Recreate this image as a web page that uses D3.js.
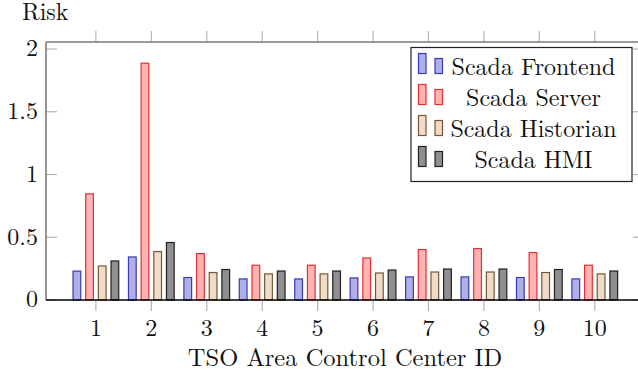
<!DOCTYPE html>
<html>
<head>
<meta charset="utf-8">
<script src="https://d3js.org/d3.v7.min.js"></script>
<style>
  body { margin: 0; background: #fff; }
</style>
</head>
<body>
<script>
// values
const centers = [1, 2, 3, 4, 5, 6, 7, 8, 9, 10];
const seriesNames = ["Scada Frontend", "Scada Server", "Scada Historian", "Scada HMI"];
const frontend  = [0.23, 0.343, 0.179, 0.168, 0.168, 0.176, 0.184, 0.184, 0.179, 0.168];
const server    = [0.846, 1.887, 0.37, 0.277, 0.277, 0.335, 0.402, 0.41, 0.378, 0.277];
const historian = [0.271, 0.386, 0.219, 0.208, 0.208, 0.215, 0.223, 0.223, 0.219, 0.208];
const hmi       = [0.311, 0.458, 0.243, 0.231, 0.231, 0.239, 0.247, 0.247, 0.243, 0.231];
const yTicks = [0, 0.5, 1, 1.5, 2];
const yTickLabels = ["0", "0.5", "1", "1.5", "2"];

const fills   = ["#b0b0e8", "#ffb3b3", "#efdcc8", "#8f8f8f"];
const strokes = ["#3a3ab4", "#e33030", "#7a5633", "#202020"];
const allValues = [frontend, server, historian, hmi];

let svg = d3.select("body").append("svg")
            .attr("width", 638)
            .attr("height", 374)
            .style("font-family", "'Latin Modern Roman', 'Liberation Serif', serif")
            .style("font-size", "24px")
            .style("fill", "#111");

let plotLeft = 46, plotRight = 638, plotTop = 42, plotBottom = 300;

let x = d3.scaleLinear().domain([0.1, 10.78]).range([plotLeft, plotRight]);
let y = d3.scaleLinear().domain([0, 2.056]).range([plotBottom, plotTop]);

// offsets of the four bars inside a group
let step = x(2) - x(1);
let inner = d3.scaleBand()
              .domain(seriesNames)
              .range([-step * 0.457, step * 0.457])
              .paddingInner(0.39)
              .paddingOuter(0.195);

// ticks (gray)
let tickColor = "#b5b5b5";
svg.append("g").selectAll("line").data(centers).enter().append("line")
   .attr("x1", d => x(d)).attr("x2", d => x(d))
   .attr("y1", plotBottom).attr("y2", plotBottom + 11)
   .attr("stroke", tickColor).attr("stroke-width", 1.2);
svg.append("g").selectAll("line").data(centers).enter().append("line")
   .attr("x1", d => x(d)).attr("x2", d => x(d))
   .attr("y1", plotTop).attr("y2", plotTop - 11)
   .attr("stroke", tickColor).attr("stroke-width", 1.2);
svg.append("g").selectAll("line").data(yTicks).enter().append("line")
   .attr("x1", plotLeft).attr("x2", plotLeft + 11)
   .attr("y1", d => y(d)).attr("y2", d => y(d))
   .attr("stroke", tickColor).attr("stroke-width", 1.2);
svg.append("g").selectAll("line").data(yTicks).enter().append("line")
   .attr("x1", plotRight - 5).attr("x2", plotRight)
   .attr("y1", d => y(d)).attr("y2", d => y(d))
   .attr("stroke", tickColor).attr("stroke-width", 1.2);

// bars
seriesNames.forEach(function(name, s) {
    svg.append("g").selectAll("rect").data(allValues[s]).enter().append("rect")
       .attr("x", (d, i) => x(centers[i]) + inner(name))
       .attr("y", d => y(d))
       .attr("width", inner.bandwidth())
       .attr("height", d => y(0) - y(d))
       .attr("fill", fills[s])
       .attr("stroke", strokes[s])
       .attr("stroke-width", 1.2);
});

// frame: top and left gray, bottom black
svg.append("line").attr("x1", plotLeft).attr("x2", plotRight).attr("y1", plotTop).attr("y2", plotTop)
   .attr("stroke", "#7a7a7a").attr("stroke-width", 1.4);
svg.append("line").attr("x1", plotLeft).attr("x2", plotLeft).attr("y1", plotTop).attr("y2", plotBottom)
   .attr("stroke", "#6a6a6a").attr("stroke-width", 1.4);
svg.append("line").attr("x1", plotLeft).attr("x2", plotRight).attr("y1", plotBottom).attr("y2", plotBottom)
   .attr("stroke", "#000").attr("stroke-width", 1.6);

// tick labels
svg.append("g").selectAll("text").data(centers).enter().append("text")
   .attr("x", d => x(d)).attr("y", plotBottom + 36)
   .attr("text-anchor", "middle")
   .text(d => d);
svg.append("g").selectAll("text").data(yTicks).enter().append("text")
   .attr("x", plotLeft - 8).attr("y", d => y(d))
   .attr("dy", "0.31em")
   .attr("text-anchor", "end")
   .text((d, i) => yTickLabels[i]);

// axis titles
svg.append("text").attr("x", 22).attr("y", 20).text("Risk");
svg.append("text").attr("x", 345).attr("y", 366).attr("text-anchor", "middle")
   .style("font-size", "24.5px")
   .text("TSO Area Control Center ID");

// legend
let legend = svg.append("g");
legend.append("rect")
      .attr("x", 411).attr("y", 47.5).attr("width", 221).attr("height", 134)
      .attr("fill", "#fff").attr("stroke", "#222").attr("stroke-width", 1.2);
let rows = legend.selectAll("g").data(seriesNames).enter().append("g")
                 .attr("transform", (d, i) => "translate(0," + (73.5 + i * 31) + ")");
rows.append("rect").attr("x", 418.5).attr("y", -20).attr("width", 7.5).attr("height", 20)
    .attr("fill", (d, i) => fills[i]).attr("stroke", (d, i) => strokes[i]).attr("stroke-width", 1.2);
rows.append("rect").attr("x", 435).attr("y", -15).attr("width", 7.5).attr("height", 15)
    .attr("fill", (d, i) => fills[i]).attr("stroke", (d, i) => strokes[i]).attr("stroke-width", 1.2);
rows.append("text").attr("x", 533.5).attr("y", 1.5).attr("text-anchor", "middle")
    .text(d => d);
</script>
</body>
</html>
